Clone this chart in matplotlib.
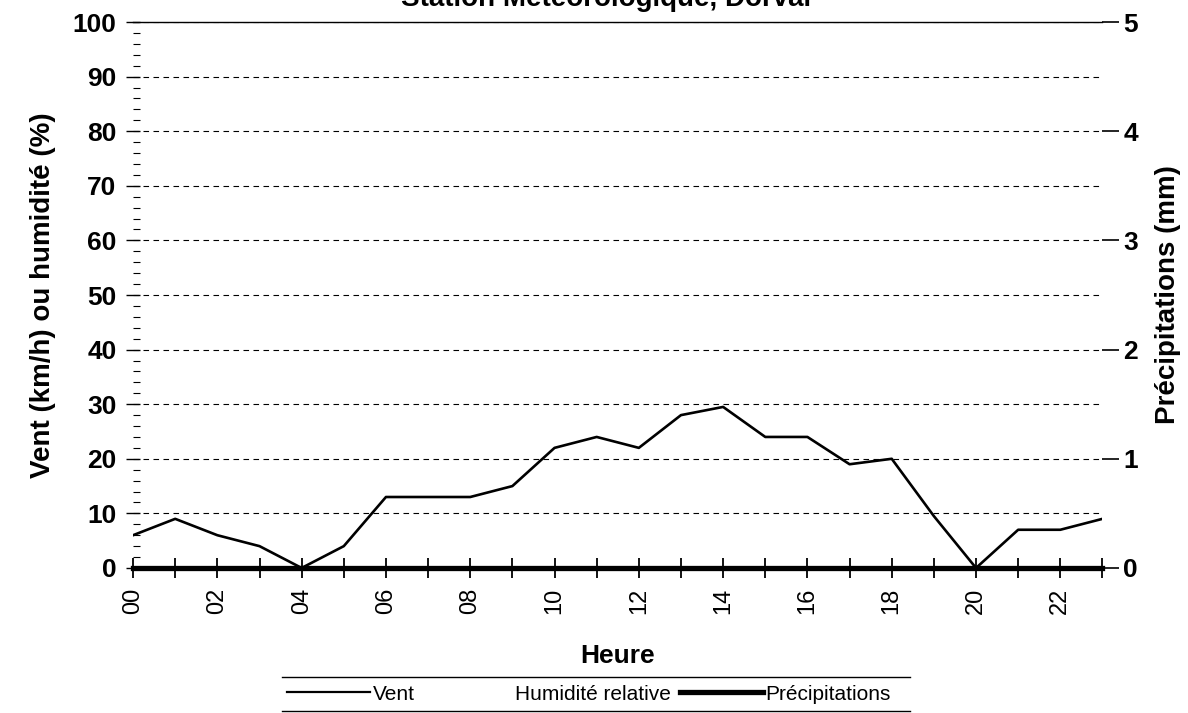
import numpy as np
import matplotlib
matplotlib.use('Agg')
import matplotlib.pyplot as plt
from matplotlib.lines import Line2D

plt.rcParams['font.family'] = ['Liberation Sans', 'DejaVu Sans']

# --- data ---
heures = list(range(24))
vent = [6, 9, 6, 4, 0, 4, 13, 13, 13, 15, 22, 24, 22, 28, 29.5, 24, 24, 19, 20, 9.5, 0, 7, 7, 9]
humidite = [np.nan] * 24          # series present in legend but not drawn
precip = [0] * 24
tick_labels = [f'{h:02d}' if h % 2 == 0 else '' for h in heures]
titre = 'Station Météorologique, Dorval'

fig = plt.figure(figsize=(11.88, 7.13), dpi=100)
ax = fig.add_axes([0.112, 0.2034, 0.816, 0.7657])
ax2 = ax.twinx()

# --- left axis: wind / humidity ---
ax.plot(heures, vent, color='black', linewidth=1.9, zorder=3)
ax.plot(heures, humidite, color='white', linewidth=1.0)
ax.set_xlim(0, 23)
ax.set_ylim(0, 100)
ax.set_yticks(range(0, 101, 10))
ax.set_yticks(range(0, 101, 2), minor=True)
ax.set_xticks(heures)
ax.set_xticklabels(tick_labels, rotation=90, fontsize=17)
ax.tick_params(axis='y', which='major', direction='inout', length=10, width=1.0,
               labelsize=19, pad=7)
ax.tick_params(axis='y', which='minor', direction='in', length=5, width=0.8)
for t in ax.get_yticklabels():
    t.set_fontweight('bold')
ax.tick_params(axis='x', direction='inout', length=14, width=1.3, pad=7)
ax.yaxis.grid(True, linestyle=(0, (5, 4)), color='black', linewidth=0.8)
ax.set_axisbelow(True)
for s in ['left', 'right', 'bottom']:
    ax.spines[s].set_visible(False)
ax.spines['top'].set_linewidth(1.0)
ax.set_ylabel('Vent (km/h) ou humidité (%)', fontsize=20, fontweight='bold', labelpad=12)
ax.set_xlabel('Heure', fontsize=19, fontweight='bold', labelpad=22)

# --- right axis: precipitation ---
ax2.plot(heures, precip, color='black', linewidth=3.8, zorder=4, clip_on=False)
ax2.set_ylim(0, 5)
ax2.set_yticks(range(0, 6))
ax2.tick_params(axis='y', direction='out', length=12, width=1.2, labelsize=19, pad=3)
for t in ax2.get_yticklabels():
    t.set_fontweight('bold')
for s in ['left', 'right', 'bottom', 'top']:
    ax2.spines[s].set_visible(False)
ax2.set_ylabel('Précipitations (mm)', fontsize=20, fontweight='bold', labelpad=12)

# --- title, clipped at the top edge as in the scan ---
fig.text(0.51, 0.991, titre, ha='center', va='baseline', fontsize=20, fontweight='bold')

# --- legend: three entries inside a thin top/bottom rule ---
h_vent = Line2D([], [], color='black', linewidth=1.6)
h_hum = Line2D([], [], color='white', linewidth=1.0)
h_pre = Line2D([], [], color='black', linewidth=3.8)
entries = [(h_vent, 'Vent', 287), (h_hum, 'Humidité relative', 430), (h_pre, 'Précipitations', 680)]
for h, lab, x in entries:
    fig.legend([h], [lab], loc='center left', bbox_to_anchor=(x / 1188, 1 - 694 / 713),
               frameon=False, fontsize=15, handlelength=4.0, handletextpad=0.1,
               borderpad=0, borderaxespad=0)
for y in (677, 711):
    fig.add_artist(Line2D([282 / 1188, 910 / 1188], [1 - y / 713] * 2,
                          color='black', linewidth=1.0, transform=fig.transFigure))

fig.savefig('out.png', dpi=100)
